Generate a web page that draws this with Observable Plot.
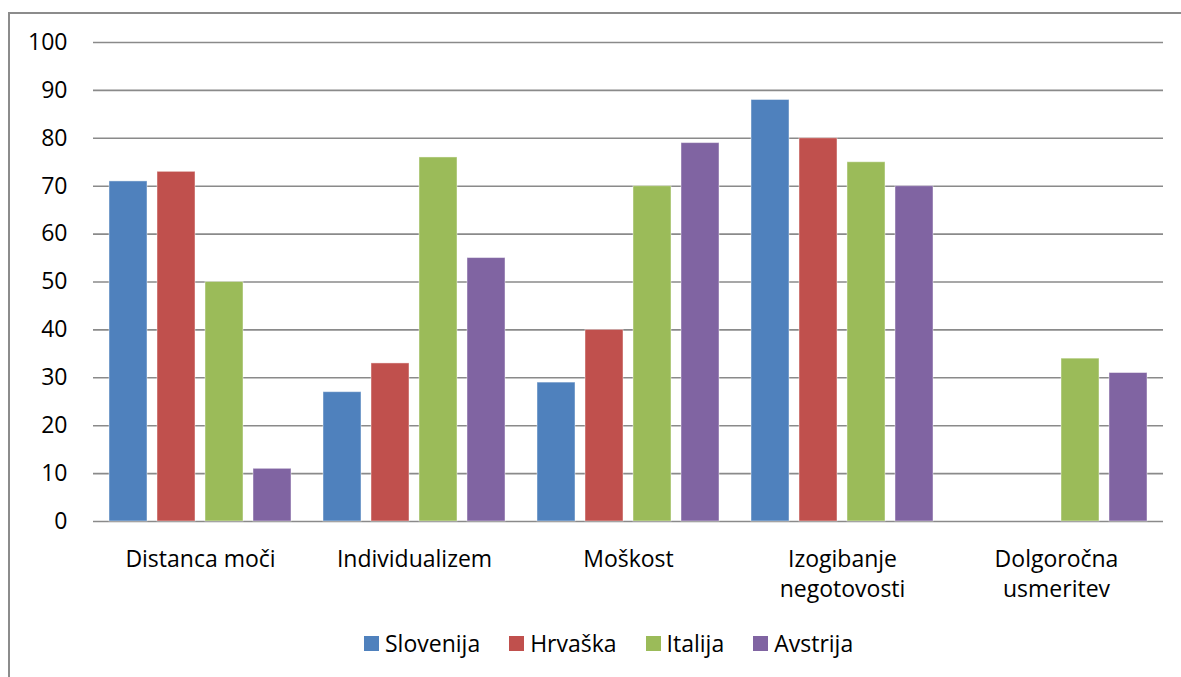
<!DOCTYPE html>
<html>
<head>
<meta charset="utf-8">
<script src="https://cdn.jsdelivr.net/npm/d3@7"></script>
<script src="https://cdn.jsdelivr.net/npm/@observablehq/plot@0.6"></script>
<style>
  html, body { margin: 0; padding: 0; background: #fff; overflow: hidden; }
  #frame { position: absolute; left: 8px; top: 12px; width: 1260px; height: 740px;
           border: 2px solid #8c8c8c; box-sizing: border-box; }
  #chart { position: absolute; left: 0; top: 0; }
  #legend { position: absolute; left: 364px; top: 627px; display: flex; align-items: center;
            font-family: "Open Sans", sans-serif; font-size: 23px; color: #000; }
  #legend .item { display: flex; align-items: center; margin-right: 29px; }
  #legend .sw { width: 15px; height: 15px; margin-right: 6px; }
</style>
</head>
<body>
<div id="frame"></div>
<div id="chart"></div>
<div id="legend"></div>
<script>
// Hofstede cultural dimensions by country
const categories = ["Distanca moči", "Individualizem", "Moškost", "Izogibanje\nnegotovosti", "Dolgoročna\nusmeritev"];
const countries = ["Slovenija", "Hrvaška", "Italija", "Avstrija"];
const slovenija = [71, 27, 29, 88, null];
const hrvaska   = [73, 33, 40, 80, null];
const italija   = [50, 76, 70, 75, 34];
const avstrija  = [11, 55, 79, 70, 31];
const colors = ["#4F81BD", "#C0504D", "#9BBB59", "#8064A2"];
const yTicks = [0, 10, 20, 30, 40, 50, 60, 70, 80, 90, 100];

const series = [slovenija, hrvaska, italija, avstrija];
const rows = [];
countries.forEach((c, i) => {
  categories.forEach((cat, j) => {
    if (series[i][j] != null) rows.push({category: cat, country: c, value: series[i][j]});
  });
});

const font = "'Open Sans', sans-serif";

const chart = Plot.plot({
  width: 1181,
  height: 610,
  marginTop: 42,
  marginBottom: 89,
  marginLeft: 92,
  marginRight: 17,
  style: { fontFamily: font, fontSize: "23px", color: "#000", background: "transparent" },
  fx: { domain: categories, padding: 0, label: null },
  x: { domain: countries, paddingInner: 0.205, paddingOuter: 0.3, axis: null },
  y: { domain: [0, 100], label: null },
  color: { domain: countries, range: colors },
  marks: [
    Plot.gridY(yTicks, { stroke: "#8a8a8a", strokeOpacity: 1, strokeWidth: 1.6 }),
    Plot.axisY(yTicks, { tickSize: 0, tickPadding: 26, fontSize: 23, label: null, fill: "#000" }),
    Plot.axisFx({ anchor: "bottom", tickSize: 0, tickPadding: 24, fontSize: 23, lineHeight: 1.3, label: null, fill: "#000" }),
    Plot.barY(rows, { fx: "category", x: "country", y: "value", fill: "country",
                      stroke: "#ffffff", strokeOpacity: 0.45, strokeWidth: 1 })
  ]
});
document.getElementById("chart").appendChild(chart);

// Legend below the chart
const legend = d3.select("#legend");
countries.forEach((c, i) => {
  const item = legend.append("div").attr("class", "item");
  item.append("div").attr("class", "sw").style("background", colors[i]);
  item.append("span").text(c);
});
</script>
</body>
</html>
